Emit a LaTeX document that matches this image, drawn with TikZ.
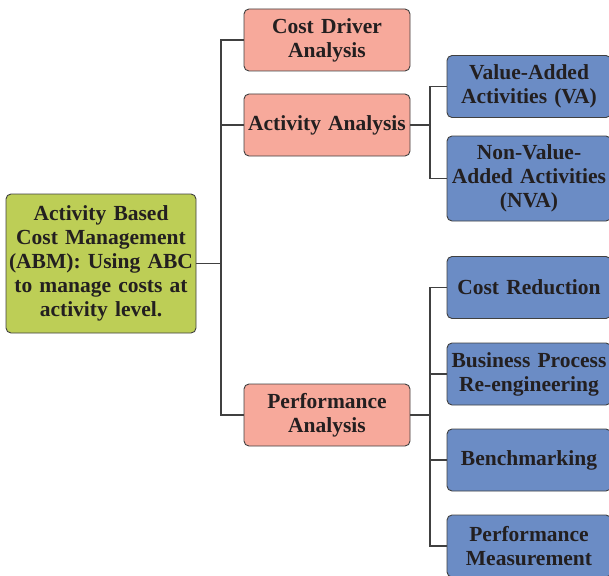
\documentclass[tikz,border=0pt]{standalone}
\usepackage{fontspec}
\setmainfont{Liberation Serif}
\definecolor{abmgreen}{RGB}{189,206,86}
\definecolor{anapink}{RGB}{247,169,155}
\definecolor{toolblue}{RGB}{107,140,197}
\definecolor{inkgray}{RGB}{35,31,32}
\definecolor{linegray}{RGB}{64,64,64}
\tikzset{
    box/.style={draw=linegray, line width=0.9pt, rounded corners=5pt, align=center,
        inner sep=0pt, text=inkgray, font=\bfseries\fontsize{21.5}{24}\selectfont},
    rootbox/.style={box, fill=abmgreen, minimum width=190pt, minimum height=139pt, text width=188pt},
    anabox/.style={box, fill=anapink, minimum width=166pt, minimum height=62pt, text width=166pt},
    toolbox/.style={box, fill=toolblue, minimum width=164pt, minimum height=62pt, text width=164pt},
    link/.style={draw=linegray, line width=1.1pt}
}
\begin{document}
\begin{tikzpicture}[x=1pt, y=-1pt]
    \useasboundingbox (0,0) rectangle (609,575);
    \node[rootbox] (abm) at (101,263.5) {Activity Based\\Cost Management\\(ABM): Using ABC\\to manage costs at\\activity level.};
    \node[anabox] (cda) at (327,40) {Cost Driver\\Analysis};
    \node[anabox] (aa) at (327,125) {Activity Analysis};
    \node[anabox] (pa) at (327,415) {Performance\\Analysis};
    \node[toolbox] (va) at (529,86.5) {Value-Added\\Activities (VA)};
    \node[toolbox, minimum height=85pt] (nva) at (529,178.5) {Non-Value-\\Added Activities\\(NVA)};
    \node[toolbox] (cr) at (529,287.5) {Cost Reduction};
    \node[toolbox] (bpr) at (529,374) {Business Process\\Re-engineering};
    \node[toolbox] (bm) at (529,460) {Benchmarking};
    \node[toolbox] (pm) at (529,546) {Performance\\Measurement};
    \coordinate (trunk) at (221,0);
    \coordinate (subtrunk) at (430,0);
    % main tree
    \draw[link] (abm.east) -- (abm.east -| trunk);
    \draw[link] (cda.west) -| (trunk |- pa.west) -- (pa.west);
    \draw[link] (aa.west) -- (aa.west -| trunk);
    % activity analysis
    \draw[link] (aa.east) -- (aa.east -| subtrunk);
    \draw[link] (va.west) -| (subtrunk |- nva.west) -- (nva.west);
    % performance analysis
    \draw[link] (pa.east) -- (pa.east -| subtrunk);
    \draw[link] (cr.west) -| (subtrunk |- pm.west) -- (pm.west);
    \draw[link] (bpr.west) -- (bpr.west -| subtrunk);
    \draw[link] (bm.west) -- (bm.west -| subtrunk);
\end{tikzpicture}
\end{document}
